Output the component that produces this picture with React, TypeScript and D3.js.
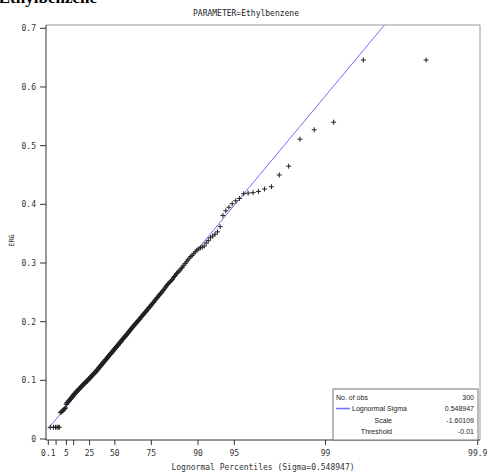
import React from 'react';
import * as d3 from 'd3';

const W = 487;
const H = 476;

const headerText = 'Ethylbenzene';
const titleText = 'PARAMETER=Ethylbenzene';
const yLabel = 'ERG';
const xLabel = 'Lognormal Percentiles (Sigma=0.548947)';
const sigma = 0.548947;

const xTickPercents = [0.1, 1, 5, 10, 25, 50, 75, 90, 95, 99, 99.9];
const xTickLabels = ['0.1', '', '5', '', '25', '50', '75', '90', '95', '99', '99.9'];
const yTicks = [0, 0.1, 0.2, 0.3, 0.4, 0.5, 0.6, 0.7];
const yTickLabels = ['0', '0.1', '0.2', '0.3', '0.4', '0.5', '0.6', '0.7'];

const legendLabels = ['No. of obs', 'Lognormal Sigma', 'Scale', 'Threshold'];
const legendValues = ['300', '0.548947', '-1.60109', '-0.01'];

// reference line: [percentile, value]
const refLinePercents = [0.1, 99];
const refLineValues = [0.018, 0.585];

const values = [
  0.020, 0.020, 0.020, 0.020, 0.020, 0.020,
  0.045, 0.046, 0.047, 0.048,
  0.050, 0.051, 0.052, 0.053,
  0.059, 0.061, 0.062, 0.063, 0.064, 0.065,
  0.066, 0.067, 0.068, 0.069, 0.070, 0.071, 0.072, 0.073, 0.074, 0.075,
  0.076, 0.077, 0.077, 0.078, 0.079, 0.080, 0.080, 0.081, 0.082, 0.082,
  0.083, 0.084, 0.084, 0.085, 0.086, 0.086, 0.087, 0.088, 0.088, 0.089,
  0.089, 0.090, 0.091, 0.091, 0.092, 0.093, 0.093, 0.094, 0.094, 0.095,
  0.095, 0.096, 0.096, 0.097, 0.098, 0.098, 0.099, 0.099, 0.100, 0.100,
  0.101, 0.101, 0.102, 0.103, 0.103, 0.104, 0.104, 0.105, 0.106, 0.106,
  0.107, 0.107, 0.108, 0.109, 0.109, 0.110, 0.110, 0.111, 0.112, 0.112,
  0.112, 0.113, 0.114, 0.114, 0.115, 0.116, 0.116, 0.117, 0.118, 0.118,
  0.119, 0.119, 0.120, 0.121, 0.122, 0.122, 0.123, 0.124, 0.124, 0.125,
  0.126, 0.126, 0.127, 0.128, 0.128, 0.129, 0.130, 0.131, 0.131, 0.132,
  0.132, 0.133, 0.134, 0.135, 0.135, 0.136, 0.137, 0.137, 0.138, 0.139,
  0.140, 0.140, 0.141, 0.142, 0.142, 0.143, 0.144, 0.145, 0.145, 0.146,
  0.147, 0.147, 0.148, 0.149, 0.150, 0.150, 0.151, 0.152, 0.153, 0.153,
  0.154, 0.155, 0.156, 0.156, 0.157, 0.158, 0.159, 0.160, 0.160, 0.161,
  0.162, 0.163, 0.164, 0.164, 0.165, 0.166, 0.167, 0.168, 0.169, 0.170,
  0.170, 0.171, 0.172, 0.173, 0.174, 0.175, 0.176, 0.176, 0.177, 0.178,
  0.179, 0.180, 0.181, 0.182, 0.183, 0.184, 0.185, 0.186, 0.187, 0.188,
  0.189, 0.190, 0.191, 0.192, 0.193, 0.194, 0.195, 0.196, 0.197, 0.198,
  0.199, 0.200, 0.201, 0.202, 0.203, 0.204, 0.205, 0.207, 0.208, 0.209,
  0.210, 0.211, 0.212, 0.214, 0.215, 0.216, 0.217, 0.218, 0.220, 0.221,
  0.222, 0.224, 0.225, 0.226, 0.228, 0.229, 0.231, 0.232, 0.233, 0.235,
  0.237, 0.238, 0.240, 0.241, 0.243, 0.245, 0.246, 0.248, 0.249, 0.251,
  0.253, 0.255, 0.257, 0.259, 0.261, 0.263, 0.265, 0.267, 0.268, 0.270,
  0.272, 0.275, 0.277, 0.279, 0.282, 0.284, 0.286, 0.288, 0.291, 0.293,
  0.296, 0.299, 0.302, 0.305, 0.308, 0.311, 0.313, 0.316, 0.319, 0.322,
  0.324, 0.326, 0.327, 0.329, 0.334, 0.338, 0.343, 0.346, 0.349, 0.353,
  0.362, 0.381, 0.389, 0.395, 0.401, 0.406, 0.410, 0.418, 0.419, 0.420,
  0.422, 0.426, 0.430, 0.450, 0.465, 0.511, 0.527, 0.540, 0.646, 0.646,
];

// inverse standard normal CDF (Acklam)
function invNorm(p: number): number {
  const a = [-39.69683028665376, 220.9460984245205, -275.9285104469687, 138.357751867269, -30.66479806614716, 2.506628277459239];
  const b = [-54.47609879822406, 161.5858368580409, -155.6989798598866, 66.80131188771972, -13.28068155288572];
  const c = [-0.007784894002430293, -0.3223964580411365, -2.400758277161838, -2.549732539343734, 4.374664141464968, 2.938163982698783];
  const d = [0.007784695709041462, 0.3224671290700398, 2.445134137142996, 3.754408661907416];
  const pl = 0.02425;
  if (p < pl) {
    const q = Math.sqrt(-2 * Math.log(p));
    return (((((c[0] * q + c[1]) * q + c[2]) * q + c[3]) * q + c[4]) * q + c[5]) / ((((d[0] * q + d[1]) * q + d[2]) * q + d[3]) * q + 1);
  }
  if (p > 1 - pl) {
    const q = Math.sqrt(-2 * Math.log(1 - p));
    return -(((((c[0] * q + c[1]) * q + c[2]) * q + c[3]) * q + c[4]) * q + c[5]) / ((((d[0] * q + d[1]) * q + d[2]) * q + d[3]) * q + 1);
  }
  const q = p - 0.5;
  const r = q * q;
  return (((((a[0] * r + a[1]) * r + a[2]) * r + a[3]) * r + a[4]) * r + a[5]) * q / (((((b[0] * r + b[1]) * r + b[2]) * r + b[3]) * r + b[4]) * r + 1);
}

const tq = (p: number) => Math.exp(sigma * invNorm(p));

export default function App() {
  const frame = { left: 46, right: 480, top: 25, bottom: 440 };
  const x = d3.scaleLinear().domain([tq(0.001), tq(0.999)]).range([48.3, 477.7]);
  const y = d3.scaleLinear().domain([0, 0.7]).range([439, 28.3]);
  const n = values.length;
  const mono = '"DejaVu Sans Mono", monospace';
  const sans = '"Liberation Sans", Arial, sans-serif';

  // reference line in transformed space
  const t0 = tq(refLinePercents[0] / 100);
  const t1 = tq(refLinePercents[1] / 100);
  const slope = (refLineValues[1] - refLineValues[0]) / (t1 - t0);
  const tEnd = x.invert(frame.right);
  const lineGen = d3.line<[number, number]>().x(d => x(d[0])).y(d => y(d[1]));
  const linePath = lineGen([[t0, refLineValues[0]], [tEnd, refLineValues[0] + slope * (tEnd - t0)]]) || '';

  const crosses = values.map((v, i) => {
    const p = (i + 1 - 0.375) / (n + 0.25);
    const cx = x(tq(p));
    const cy = y(v);
    return `M${cx - 2.5},${cy}H${cx + 2.5}M${cx},${cy - 2.5}V${cy + 2.5}`;
  }).join('');

  const legend = { x0: 333, x1: 478, y0: 389, y1: 440 };
  const rowY = [397, 408.5, 420, 431.5];
  const lf = 7;

  return (
    <svg width={W} height={H} style={{ position: 'absolute', left: 0, top: 0, background: '#fff' }}>
      <defs>
        <clipPath id="plotclip">
          <rect x={frame.left} y={frame.top} width={frame.right - frame.left} height={frame.bottom - frame.top} />
        </clipPath>
      </defs>
      <rect x={0} y={0} width={W} height={H} fill="#fff" />
      <text x={97} y={3} textAnchor="end" fontFamily='"Liberation Serif", serif' fontWeight="bold" fontSize={17} fill="#000">{headerText}</text>
      <text x={246} y={16} textAnchor="middle" fontFamily={mono} fontSize={8} fill="#222">{titleText}</text>

      {/* frame */}
      <line x1={frame.left} x2={frame.right} y1={frame.top} y2={frame.top} stroke="#999" />
      <line x1={frame.right} x2={frame.right} y1={frame.top} y2={frame.bottom} stroke="#999" />
      <line x1={frame.left} x2={frame.left} y1={frame.top} y2={frame.bottom} stroke="#333" />
      <line x1={frame.left} x2={frame.right} y1={frame.bottom} y2={frame.bottom} stroke="#333" />

      {/* y axis */}
      {yTicks.map((v, i) => (
        <g key={'y' + i}>
          <line x1={40} x2={frame.left} y1={y(v)} y2={y(v)} stroke="#333" />
          <text x={36} y={y(v) + 3} textAnchor="end" fontFamily={mono} fontSize={8} fill="#333">{yTickLabels[i]}</text>
        </g>
      ))}
      <text transform={`translate(14,${(frame.top + frame.bottom) / 2 + 8}) rotate(-90)`} textAnchor="middle" fontFamily={mono} fontSize={7} fill="#333">{yLabel}</text>

      {/* x axis */}
      {xTickPercents.map((p, i) => {
        const px = x(tq(p / 100));
        return (
          <g key={'x' + i}>
            <line x1={px} x2={px} y1={frame.bottom} y2={frame.bottom + 5} stroke="#333" />
            {xTickLabels[i] && (
              <text x={px} y={456} textAnchor="middle" fontFamily={mono} fontSize={8} fill="#333">{xTickLabels[i]}</text>
            )}
          </g>
        );
      })}
      <text x={263} y={470} textAnchor="middle" fontFamily={mono} fontSize={8} fill="#333">{xLabel}</text>

      {/* reference line */}
      <path d={linePath} stroke="#7070f8" strokeWidth={1} fill="none" clipPath="url(#plotclip)" />

      {/* points */}
      <path d={crosses} stroke="#222" strokeWidth={1} fill="none" />

      {/* legend */}
      <rect x={legend.x0} y={legend.y0} width={legend.x1 - legend.x0} height={legend.y1 - legend.y0} fill="#fff" stroke="#777" />
      <text x={336} y={rowY[0] + 2.5} fontFamily={sans} fontSize={lf} fill="#222">{legendLabels[0]}</text>
      <line x1={336} x2={350} y1={rowY[1]} y2={rowY[1]} stroke="#7070f8" strokeWidth={1.5} />
      <text x={352} y={rowY[1] + 2.5} fontFamily={sans} fontSize={lf} fill="#222">{legendLabels[1]}</text>
      <text x={392} y={rowY[2] + 2.5} textAnchor="end" fontFamily={sans} fontSize={lf} fill="#222">{legendLabels[2]}</text>
      <text x={392} y={rowY[3] + 2.5} textAnchor="end" fontFamily={sans} fontSize={lf} fill="#222">{legendLabels[3]}</text>
      {legendValues.map((v, i) => (
        <text key={'lv' + i} x={474} y={rowY[i] + 2.5} textAnchor="end" fontFamily={sans} fontSize={lf} fill="#222">{v}</text>
      ))}
    </svg>
  );
}
